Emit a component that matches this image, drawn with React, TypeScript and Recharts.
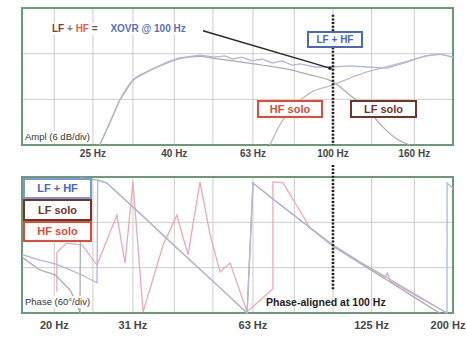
import React from "react";
import {
  LineChart,
  Line,
  XAxis,
  YAxis,
  CartesianGrid,
  ReferenceLine,
  ReferenceArea,
  ReferenceDot,
} from "recharts";

// 1/3-octave grid and the labelled ticks of each panel
const GRID_FREQS = [20, 25, 31.5, 40, 50, 63, 80, 100, 125, 160, 200];
const AMP_LABELS: Record<string, string> = {
  "25": "25 Hz",
  "40": "40 Hz",
  "63": "63 Hz",
  "100": "100 Hz",
  "160": "160 Hz",
};
const PHASE_LABELS: Record<string, string> = {
  "20": "20 Hz",
  "31.5": "31 Hz",
  "63": "63 Hz",
  "125": "125 Hz",
  "200": "200 Hz",
};
const DB_TICKS = [-36, -30, -24, -18, -12, -6, 0];
const DEG_TICKS = [-180, -120, -60, 0, 60, 120, 180];

// amplitude, [Hz, dB]
const AMP_SUM = [
  [26.0, -36], [27.6, -30], [29.2, -24.2], [31.5, -18.9], [34.8, -16.3],
  [38.4, -14.2], [41.3, -13.1], [46.4, -12.4], [50.6, -12.9], [53.6, -12.6],
  [56.1, -13.4], [59.1, -12.9], [62.7, -13.9], [66.4, -13.4], [70.4, -14.5],
  [74.5, -13.9], [79, -15.0], [82.7, -14.7], [90.2, -15.5], [100, -15.5],
  [110.4, -15.2], [121.8, -15.5], [136.7, -15.8], [153.4, -14.2],
  [170.1, -12.6], [185.6, -12.1], [200, -12.9],
];
const AMP_LF = [
  [26.0, -36], [27.6, -30], [29.2, -24.2], [31.5, -19.0], [34.8, -16.4],
  [38.4, -14.4], [41.3, -13.3], [46.4, -12.7], [50.6, -13.3], [56.1, -13.9],
  [62.7, -14.6], [70.4, -15.4], [79, -16.3], [87.6, -17.6], [100, -19.4],
  [110.4, -22.9], [121.8, -26.5], [133.5, -31.3], [145, -34.5], [156, -36],
];
const AMP_HF = [
  [69.5, -36], [73.6, -30.7], [80.3, -25.5], [87.6, -22.3], [100, -20.2],
  [110.4, -18.4], [121.8, -16.8], [136.7, -15.4], [153.4, -14.0],
  [170.1, -12.7], [185.6, -12.2], [200, -13.0],
];

// phase, [Hz, degrees]
const PHASE_SUM = [
  [16.6, -25], [18.4, -40], [20.1, -50], [21.5, -62], [23.5, -80],
  [25.6, -100], [25.7, 172], [27.1, 164], [33.4, 76], [40.6, -8],
  [49.2, -89], [55.2, -138], [60.9, -180], [63.0, 164], [70.7, 122],
  [82.7, 66], [100, 0], [116.9, -45], [139, -91], [165.3, -138],
  [193.2, -180], [193.3, 164], [200, 150],
];
const PHASE_LF = [
  [16.6, -32], [18.4, -66], [20.1, -79], [21.9, -119], [22.8, -154],
  [23.2, -180], [23.3, 178], [25.7, 172], [27.1, 164], [33.4, 76],
  [40.6, -8], [49.2, -89], [55.2, -138], [60.9, -180], [63.0, 164],
  [70.7, 122], [82.7, 66], [100, -3], [116.9, -48], [139, -98],
  [165.3, -148], [185, -180],
];
const PHASE_HF = [
  [20.3, -124], [20.3, -19], [21.5, 5], [23.5, 0], [25.6, -53], [28.7, 79],
  [30.1, -48], [31.5, 167], [33.4, -177], [37.5, 0], [40.6, 79], [43.3, -26],
  [46.4, 167], [49.2, 26], [52.1, -71], [55.2, -48], [60.9, -177],
  [65, -150], [70.7, -116], [70.7, 167], [74.9, 165], [82.7, 90],
  [87.6, 45], [100, 0], [116.9, -45], [135, -85], [137, -75], [139, -95],
  [165.3, -140], [193.2, -180],
];

const pts = (arr: number[][]) => arr.map(([f, v]) => ({ f, v }));

const FONT = "'Liberation Sans', Arial, sans-serif";
const GREEN = "#6b9b76";
const C_SUM = "#b2b8d8";
const C_LF = "#adadad";
const C_HF_AMP = "#c2bcbc";
const C_HF = "#eaaab6";
const BLUE = "#4a66bf";
const RED = "#e24b36";
const BROWN = "#74342a";

const FDOMAIN: [number, number] = [16.6, 200];

const Box = ({
  left,
  top,
  w,
  h,
  color,
  border,
  text,
  size = 11,
}: {
  left: number;
  top: number;
  w: number;
  h: number;
  color: string;
  border: string;
  text: string;
  size?: number;
}) => (
  <div
    style={{
      position: "absolute",
      left,
      top,
      width: w,
      height: h,
      boxSizing: "border-box",
      border: `2px solid ${border}`,
      background: "#fff",
      color,
      fontWeight: "bold",
      fontSize: size,
      display: "flex",
      alignItems: "center",
      justifyContent: "center",
      lineHeight: 1,
    }}
  >
    {text}
  </div>
);

const FreqTick = (props: any) => {
  const { x, y, payload, labels, size } = props;
  const label = labels[String(payload.value)];
  if (!label) return null;
  // keep the last label inside the page
  const dx = payload.value >= 200 ? -5 : 0;
  return (
    <text
      x={x + dx}
      y={y}
      dy="0.71em"
      textAnchor="middle"
      fontSize={size}
      fontWeight="bold"
      fill="#454545"
    >
      {label}
    </text>
  );
};

export default function App() {
  return (
    <div
      style={{
        position: "absolute",
        left: 0,
        top: 0,
        width: 467,
        height: 337,
        background: "#fff",
        fontFamily: FONT,
        overflow: "hidden",
      }}
    >
      {/* amplitude panel */}
      <div style={{ position: "absolute", left: 0, top: 0 }}>
        <LineChart
          width={467}
          height={165}
          margin={{ top: 8, right: 14, bottom: 0, left: 22 }}
        >
          <CartesianGrid stroke="#cccccc" strokeWidth={1} />
          <XAxis
            dataKey="f"
            type="number"
            scale="log"
            domain={FDOMAIN}
            allowDataOverflow
            ticks={GRID_FREQS}
            tick={<FreqTick labels={AMP_LABELS} size={10} />}
            axisLine={false}
            tickLine={false}
            tickSize={4}
            tickMargin={1}
            height={20}
            interval={0}
          />
          <YAxis
            type="number"
            domain={[-36, 0]}
            ticks={DB_TICKS}
            hide
            width={0}
          />
          <Line data={pts(AMP_LF)} dataKey="v" stroke={C_LF} strokeWidth={1.3} dot={false} isAnimationActive={false} type="monotone" />
          <Line data={pts(AMP_HF)} dataKey="v" stroke={C_HF_AMP} strokeWidth={1.3} dot={false} isAnimationActive={false} type="monotone" />
          <Line data={pts(AMP_SUM)} dataKey="v" stroke={C_SUM} strokeWidth={1.3} dot={false} isAnimationActive={false} type="linear" />
          <ReferenceLine
            segment={[{ x: 47.2, y: -6.0 }, { x: 98.3, y: -15.8 }]}
            stroke="#2a2a2a"
            strokeWidth={1.5}
          />
          <ReferenceDot x={98.3} y={-15.8} r={1.8} fill="#2a2a2a" stroke="none" />
          <ReferenceLine
            segment={[{ x: 100, y: -1.8 }, { x: 100, y: -36 }]}
            stroke="#1e1e1e"
            strokeWidth={2.6}
            strokeDasharray="2 1.6"
          />
          <ReferenceArea
            x1={FDOMAIN[0]}
            x2={FDOMAIN[1]}
            y1={-36}
            y2={0}
            fill="none"
            stroke={GREEN}
            strokeWidth={2}
            fillOpacity={0}
          />
        </LineChart>
      </div>

      {/* phase panel */}
      <div style={{ position: "absolute", left: 0, top: 165 }}>
        <LineChart
          width={467}
          height={172}
          margin={{ top: 12, right: 14, bottom: 0, left: 22 }}
        >
          <CartesianGrid stroke="#cccccc" strokeWidth={1} />
          <XAxis
            dataKey="f"
            type="number"
            scale="log"
            domain={FDOMAIN}
            allowDataOverflow
            ticks={GRID_FREQS}
            tick={<FreqTick labels={PHASE_LABELS} size={11} />}
            axisLine={false}
            tickLine={false}
            tickSize={4}
            tickMargin={4}
            height={24}
            interval={0}
          />
          <YAxis
            type="number"
            domain={[-180, 180]}
            ticks={DEG_TICKS}
            hide
            width={0}
          />
          <Line data={pts(PHASE_HF)} dataKey="v" stroke={C_HF} strokeWidth={1.3} dot={false} isAnimationActive={false} type="linear" />
          <Line data={pts(PHASE_LF)} dataKey="v" stroke={C_LF} strokeWidth={1.3} dot={false} isAnimationActive={false} type="linear" />
          <Line data={pts(PHASE_SUM)} dataKey="v" stroke={C_SUM} strokeWidth={1.3} dot={false} isAnimationActive={false} type="linear" />
          <ReferenceLine
            segment={[{ x: 100, y: 212 }, { x: 100, y: -119 }]}
            stroke="#1e1e1e"
            strokeWidth={2.6}
            strokeDasharray="2 1.6"
            ifOverflow="visible"
          />
          <ReferenceArea
            x1={FDOMAIN[0]}
            x2={FDOMAIN[1]}
            y1={-180}
            y2={180}
            fill="none"
            stroke={GREEN}
            strokeWidth={2}
            fillOpacity={0}
          />
        </LineChart>
      </div>

      {/* amplitude annotations */}
      <div
        style={{
          position: "absolute",
          left: 50,
          top: 23,
          fontSize: 10,
          fontWeight: "bold",
          background: "#fff",
          padding: "0 2px",
          whiteSpace: "nowrap",
          lineHeight: "12px",
        }}
      >
        <span style={{ color: "#8a3a2c" }}>LF</span>
        <span style={{ color: "#777" }}> + </span>
        <span style={{ color: "#e8603c" }}>HF</span>
        <span style={{ color: "#555" }}> = </span>
        <span style={{ color: "#5870c0", marginLeft: 10 }}>XOVR @ 100 Hz</span>
      </div>
      <Box left={307} top={31} w={56} h={17} color={BLUE} border={BLUE} text="LF + HF" size={10} />
      <Box left={257} top={100} w={66} h={18} color={RED} border={RED} text="HF solo" />
      <Box left={350} top={100} w={67} h={18} color={BROWN} border={BROWN} text="LF solo" />
      <div
        style={{
          position: "absolute",
          left: 24,
          top: 131,
          fontSize: 9.5,
          color: "#333",
          background: "#fff",
          padding: "0 1px",
          lineHeight: "12px",
          whiteSpace: "nowrap",
        }}
      >
        Ampl (6 dB/div)
      </div>

      {/* phase annotations */}
      <Box left={23} top={178} w={69} h={21} color={BLUE} border={"#7a98d4"} text="LF + HF" />
      <Box left={23} top={199} w={69} h={22} color={BROWN} border={BROWN} text="LF solo" />
      <Box left={23} top={221} w={69} h={21} color={RED} border={RED} text="HF solo" />
      <div
        style={{
          position: "absolute",
          left: 24,
          top: 296,
          fontSize: 9.5,
          color: "#333",
          background: "#fff",
          padding: "0 1px",
          lineHeight: "12px",
          whiteSpace: "nowrap",
        }}
      >
        Phase (60°/div)
      </div>
      <div
        style={{
          position: "absolute",
          left: 266,
          top: 296,
          fontSize: 10.5,
          fontWeight: "bold",
          color: "#222",
          lineHeight: "12px",
          whiteSpace: "nowrap",
        }}
      >
        Phase-aligned at 100 Hz
      </div>
    </div>
  );
}
